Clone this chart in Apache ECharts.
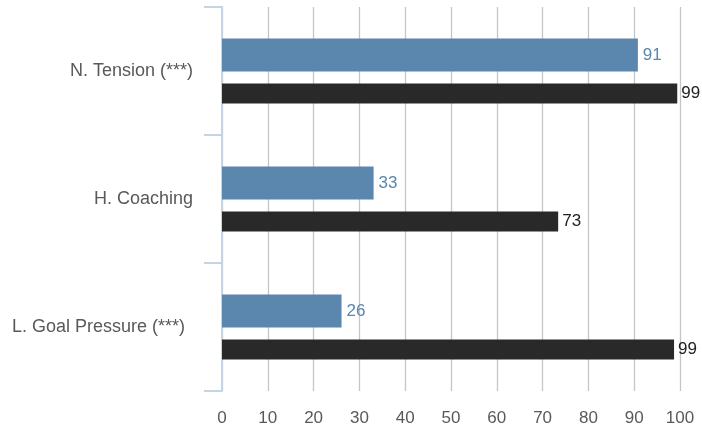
<!DOCTYPE html>
<html>
<head>
<meta charset="utf-8">
<script src="https://cdn.jsdelivr.net/npm/echarts@6/dist/echarts.min.js"></script>
<style>html,body{margin:0;padding:0;background:#fff}#c{width:702px;height:430px}</style>
</head>
<body>
<div id="c"></div>
<script>
const categories = ['N. Tension (***)', 'H. Coaching', 'L. Goal Pressure (***)'];
const blueValues = [90.8, 33.1, 26.1];
const blackValues = [99.4, 73.4, 98.7];
const xTicks = [0, 10, 20, 30, 40, 50, 60, 70, 80, 90, 100];

const chart = echarts.init(document.getElementById('c'));
const fontFamily = 'Liberation Sans, Arial, sans-serif';
chart.setOption({
  animation: false,
  grid: { left: 222, right: 22, top: 7, bottom: 39, containLabel: false },
  xAxis: {
    type: 'value',
    min: xTicks[0],
    max: xTicks[xTicks.length - 1],
    interval: 10,
    axisLine: { show: false },
    axisTick: { show: false },
    axisLabel: { color: '#595959', fontSize: 17, fontFamily, margin: 19 },
    splitLine: { show: true, lineStyle: { color: '#c6c6c6', width: 1.3 } }
  },
  yAxis: {
    type: 'category',
    data: categories,
    inverse: true,
    axisLine: { show: true, lineStyle: { color: '#c5d4e4', width: 2 } },
    axisTick: { show: true, length: 18, lineStyle: { color: '#c5d4e4', width: 2 } },
    axisLabel: {
      color: '#595959', fontSize: 18, fontFamily, margin: 29,
      formatter: (v, i) => (i === categories.length - 1 ? '{p|' + v + '}' : v),
      rich: { p: { color: '#595959', fontSize: 18, fontFamily, padding: [0, 8, 0, 0] } }
    },
    splitLine: { show: false }
  },
  series: [
    {
      type: 'bar',
      data: blueValues,
      barWidth: 33,
      barGap: '36.4%',
      itemStyle: { color: '#5b86ad' },
      label: {
        show: true, position: 'right', distance: 5,
        color: '#5b86ad', fontSize: 17, fontFamily,
        formatter: p => Math.round(p.value)
      }
    },
    {
      type: 'bar',
      data: blackValues,
      barWidth: 20,
      barGap: '36.4%',
      itemStyle: { color: '#292929' },
      label: {
        show: true, position: 'right', distance: 4,
        color: '#222222', fontSize: 17, fontFamily,
        formatter: p => Math.round(p.value)
      }
    }
  ]
});
</script>
</body>
</html>
